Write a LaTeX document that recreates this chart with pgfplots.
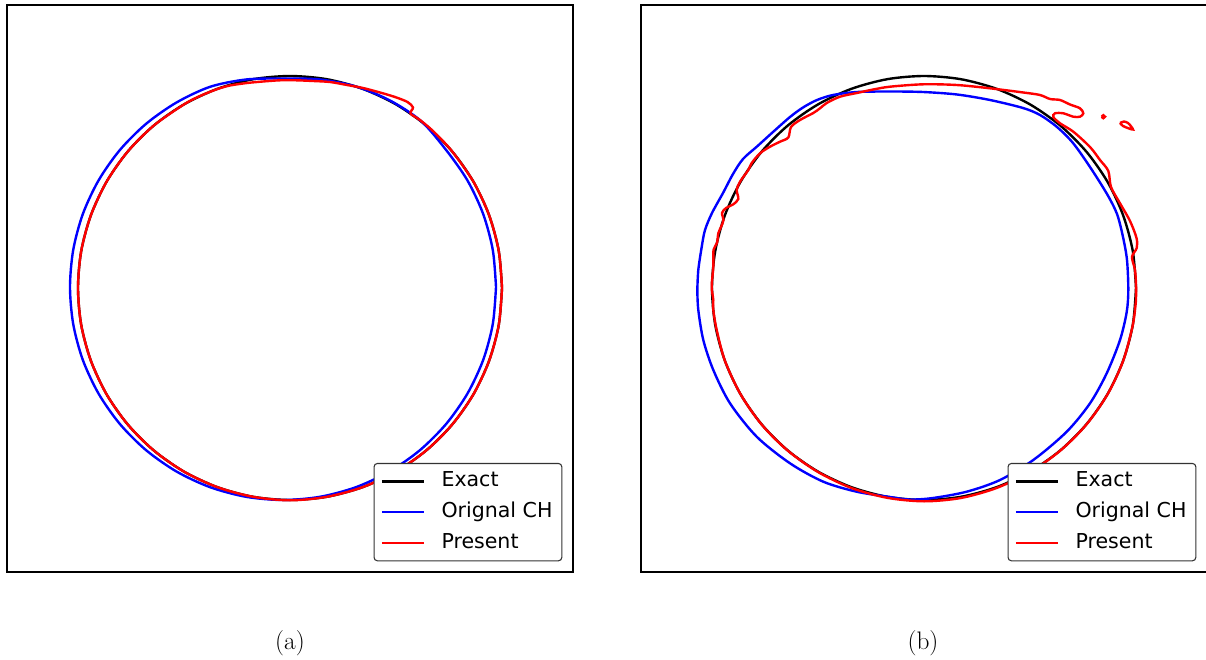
\documentclass[border=0pt]{standalone}
\usepackage{fontspec}
\usepackage{pgfplots}
\pgfplotsset{compat=1.18}
\newfontfamily\dejavu{DejaVu Sans}

% all coordinates are image pixels, 1px = 0.75pt, y measured downwards
\pgfplotsset{
  panel/.style={
    width=424.5pt, height=425.25pt, scale only axis,
    anchor=south west,
    y dir=reverse, ymin=5, ymax=572,
    xtick=\empty, ytick=\empty,
    axis line style={line width=1.1pt},
    legend cell align=left,
    legend image code/.code={\draw[##1] (0pt,0pt) -- (31.8pt,0pt);},
    legend style={at={(1,0)}, anchor=south east, xshift=-8pt, yshift=8pt,
      draw=black!80, line width=0.8pt, rounded corners=2.5pt,
      fill=white, font=\dejavu\fontsize{15.4}{18}\selectfont,
      inner xsep=5pt, inner ysep=4pt, row sep=4pt, column sep=10pt,
      nodes={inner sep=2pt, text height=11.5pt, text depth=3.5pt}},
  },
  exact/.style={black, line width=1.8pt, smooth},
  orig/.style={blue, line width=1.8pt, smooth},
  pres/.style={red, line width=1.8pt, smooth},
}

\begin{document}
\begin{tikzpicture}

% ---------------- (a) ----------------
\begin{axis}[panel, at={(5.25pt,66pt)}, xmin=7, xmax=573]
\addplot[exact] coordinates {
(502,288) (498.8,251.2) (489.2,215.5) (473.6,182) (452.4,151.7) (426.3,125.6)
(396,104.4) (362.5,88.8) (326.8,79.2) (290,76) (253.2,79.2) (217.5,88.8)
(184,104.4) (153.7,125.6) (127.6,151.7) (106.4,182) (90.8,215.5) (81.2,251.2)
(78,288) (81.2,324.8) (90.8,360.5) (106.4,394) (127.6,424.3) (153.7,450.4)
(184,471.6) (217.5,487.2) (253.2,496.8) (290,500) (326.8,496.8) (362.5,487.2)
(396,471.6) (426.3,450.4) (452.4,424.3) (473.6,394) (489.2,360.5) (498.8,324.8)
(502,288)};
\addlegendentry{Exact}
\addplot[orig] coordinates {
(496,287) (492.8,250) (483.2,214.1) (467.5,180.5) (446.2,150.1) (421,121)
(390,100.5) (355.9,86.5) (320,79.5) (283,78.5) (246,79.5) (210.1,86.8)
(176.5,102.5) (146.1,123.8) (119.8,150.1) (98.5,180.5) (82.8,214.1) (73.2,250)
(70,287) (73.2,324) (82.8,359.9) (98.5,393.5) (119.8,423.9) (146.1,450.2)
(176.5,471.5) (210.1,487.2) (246,496.8) (283,500) (320,496.8) (355.9,487.2)
(389.5,471.5) (419.9,450.2) (446.2,423.9) (467.5,393.5) (483.2,359.9) (492.8,324)
(496,287)};
\addlegendentry{Orignal CH}
\addplot[pres] coordinates {
(502,288) (498.8,251.2) (489.2,215.5) (473.6,182) (452.4,151.7) (434,132)
(420,120) (410.5,113.5) (413,107.5) (407.5,102) (395,97) (380,92.5)
(363,88) (347,85) (330,82) (313,81) (296,80.3) (280,80.3) (263,81.5)
(247,83) (230,85.5) (217.5,89) (200,96) (184,104.4) (153.7,125.6)
(127.6,151.7) (106.4,182) (90.8,215.5) (81.2,251.2) (78,288) (81.2,324.8)
(90.8,360.5) (106.4,394) (127.6,424.3) (153.7,450.4) (184,471.6) (217.5,487.2)
(253.2,496.8) (290,500.3) (326.8,496.8) (362.5,487.2) (396,471.6) (426.3,450.4)
(452.4,424.3) (473.6,394) (489.2,360.5) (498.8,324.8) (502,288)};
\addlegendentry{Present}
\end{axis}

% ---------------- (b) ----------------
\begin{axis}[panel, at={(480.75pt,66pt)}, xmin=641, xmax=1207]
\addplot[exact] coordinates {
(1136,288) (1132.8,251.2) (1123.2,215.5) (1107.6,182) (1086.4,151.7) (1060.3,125.6)
(1030,104.4) (996.5,88.8) (960.8,79.2) (924,76) (887.2,79.2) (851.5,88.8)
(818,104.4) (787.7,125.6) (761.6,151.7) (740.4,182) (724.8,215.5) (715.2,251.2)
(712,288) (715.2,324.8) (724.8,360.5) (740.4,394) (761.6,424.3) (787.7,450.4)
(818,471.6) (851.5,487.2) (887.2,496.8) (924,500) (960.8,496.8) (996.5,487.2)
(1030,471.6) (1060.3,450.4) (1086.4,424.3) (1107.6,394) (1123.2,360.5) (1132.8,324.8)
(1136,288)};
\addlegendentry{Exact}
\addplot[orig] coordinates {
(697.3,290) (698.3,270) (701.7,247) (705,230) (712,213) (723,193) (733,174)
(743,159) (757,146.5) (773,132) (790,117) (803,107.5) (817,100) (833,95)
(857,92) (890,91.5) (923,92) (957,94.5) (990,100) (1023,108) (1040,115)
(1057,127) (1073,143) (1090,167) (1107,194) (1117,214) (1123,237) (1127,260)
(1128.3,290) (1126.7,312) (1120,340) (1106.7,373.3) (1090,403.3) (1066.7,431.7)
(1033.3,460) (1000,480) (966.7,491.7) (933,498) (910,499.5) (890,497)
(856.7,491.7) (823.3,481.7) (790,463.3) (756.7,436.7) (730,403.3) (713.3,370)
(703.3,340) (698.3,310) (697.3,290)};
\addlegendentry{Orignal CH}
\addplot[pres] coordinates {
(1136,300) (1136,285) (1135,270) (1132,257) (1136.7,248) (1136.5,238)
(1130,221) (1120,203.3) (1111,187) (1108.3,171) (1100,160) (1090,147)
(1073.3,131.7) (1060,123.3) (1053.3,117) (1055,113.3) (1063.3,113.3) (1073.3,116.7)
(1080,116.7) (1083.3,113.3) (1080,108.3) (1070,104.5) (1060,100) (1050,99)
(1040,95) (1023.3,92.5) (990,88.3) (956.7,85) (923.3,84.3) (890,86.7)
(873.3,89.5) (856.7,93) (840,96.7) (826.7,103) (820,108.3) (813.3,113)
(800,120) (791,127) (788.3,137.5) (780,141.7) (770,146.7) (760,153.3)
(751.7,163) (748.3,170) (740,181.7) (736.7,190) (738.3,199) (733,204.5)
(726,208) (722,213) (723.5,220) (721,227) (718.3,233.3) (717,243)
(713.5,250) (713.3,266.7) (711.7,286.7) (713.3,300) (713.3,310) (716.7,330)
(724.8,360.5) (740.4,394) (761.6,424.5) (787.7,450.6) (818,472) (851.5,488)
(887.2,497.8) (924,501.3) (960.8,498) (996.5,488) (1030,472) (1060.3,450.6)
(1086.4,424.5) (1107.6,394.2) (1123.2,360.7) (1132.8,325) (1136,300)};
\addlegendentry{Present}
% detached drops of the present solution
\addplot[pres, forget plot] coordinates {
(1101.7,116.7) (1103.3,115.2) (1105,116.7) (1103.3,118.2) (1101.7,116.7)};
\addplot[pres, forget plot] coordinates {
(1120,123) (1124,121.5) (1128,123) (1131,126.3) (1133,129.5) (1129,128.5)
(1123,126) (1120,123)};
\end{axis}

\node[font=\fontsize{19}{23}\selectfont] at (217.5pt,12.75pt) {(a)};
\node[font=\fontsize{19}{23}\selectfont] at (692.25pt,12.75pt) {(b)};

\pgfresetboundingbox
\useasboundingbox (0pt,0pt) rectangle (904.5pt,495pt);
\end{tikzpicture}
\end{document}
